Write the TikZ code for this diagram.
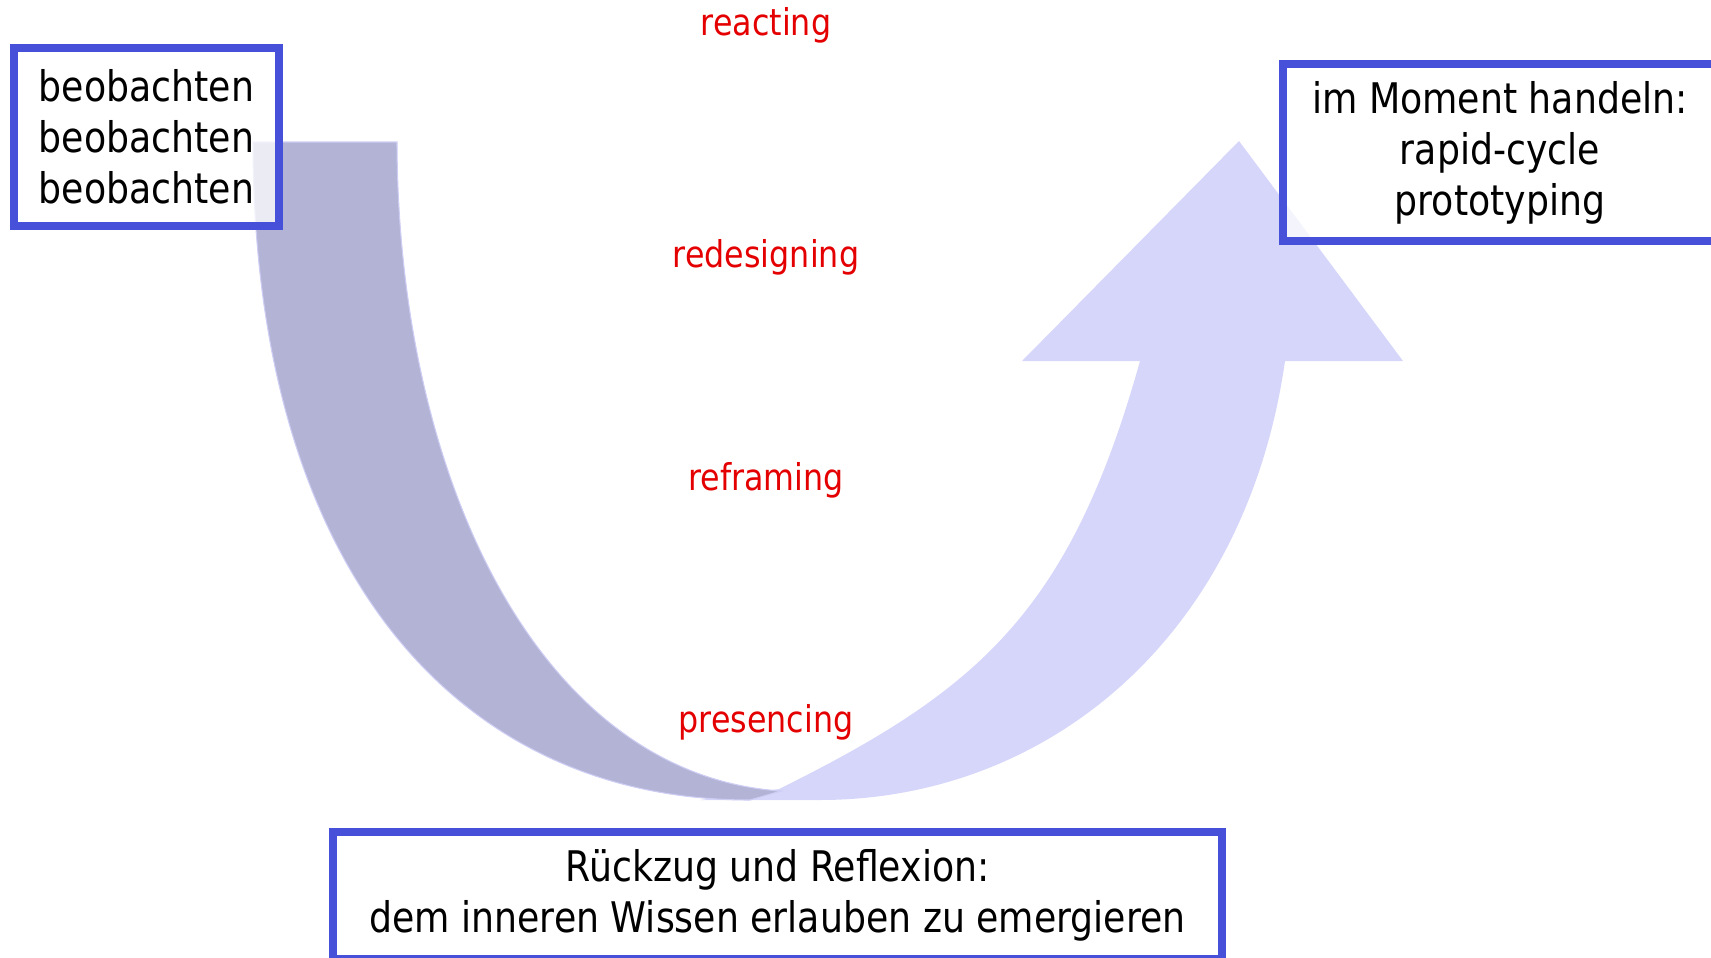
\documentclass[tikz,border=0pt]{standalone}
\usepackage{fontspec}
\setmainfont{DejaVu Sans}[FakeStretch=0.86]
\usepackage{tikz}
\usetikzlibrary{positioning}

\definecolor{boxblue}{RGB}{70,80,216}
\definecolor{darkband}{RGB}{179,179,214}
\definecolor{lightband}{RGB}{214,214,251}
\definecolor{bandedge}{RGB}{206,206,245}
\definecolor{stagered}{RGB}{228,0,0}

\tikzset{
  frame/.style={draw=boxblue, line width=4.5pt, fill=white, fill opacity=0.75,
    text opacity=1, align=center, inner sep=0pt, font=\fontsize{24}{29}\selectfont},
  stage/.style={text=stagered, anchor=base, font=\fontsize{21}{25}\selectfont},
}

\begin{document}
\begin{tikzpicture}[x=0.02cm, y=0.02cm, yscale=-1]
\useasboundingbox (0,0) rectangle (1711,957);
\clip (0,0) rectangle (1711,957);
% rising band with its head
\fill[lightband] (1140,361) -- (1022,361) -- (1239,141) -- (1403,361) -- (1285,361)
  .. controls (1245,640) and (1045,800) .. (820,800) -- (700,800) -- (779,789)
  .. controls (979,690) and (1070,611) .. (1140,361) -- cycle;
% falling band
\filldraw[fill=darkband, draw=bandedge, line width=0.6pt] (253,142) -- (397,142)
  .. controls (398,480) and (540,775) .. (781,791) -- (750,800)
  .. controls (450,800) and (253,560) .. (253,142) -- cycle;
\node[stage] (reacting) at (766,35) {reacting};
\node[stage] (redesigning) at (766,267) {redesigning};
\node[stage] (reframing) at (766,490) {reframing};
\node[stage] (presencing) at (766,732) {presencing};
\node[frame, minimum width=5.30cm, minimum height=3.56cm] (observe) at (146.5,137)
  {beobachten\\beobachten\\beobachten};
\node[frame, minimum width=8.68cm, minimum height=3.54cm] (act) at (1500,152.5)
  {im Moment handeln:\\rapid-cycle\\prototyping};
\node[frame, minimum width=17.78cm, minimum height=2.54cm] (retreat) at (777.5,895.5)
  {Rückzug und Reflexion:\\dem inneren Wissen erlauben zu emergieren};
\end{tikzpicture}
\end{document}
